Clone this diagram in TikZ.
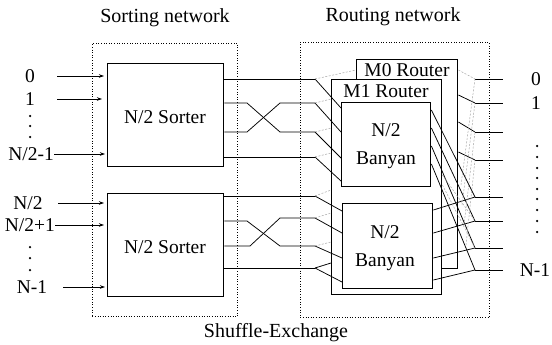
\documentclass[tikz,border=0pt]{standalone}
\usepackage{fontspec}
\setmainfont{Liberation Serif}
\usetikzlibrary{arrows.meta}
\begin{document}
\begin{tikzpicture}[x=1pt,y=-1pt,
  box/.style={draw, line width=1.4pt, fill=white, inner sep=0pt, anchor=north west},
  dotbox/.style={draw, dotted, line width=0.6pt},
  wire/.style={line width=0.75pt},
  gwire/.style={line width=0.5pt, gray!70, dash pattern=on 2pt off 1.5pt},
  arr/.style={wire, -{Stealth[length=5pt,width=3.5pt]}},
  lab/.style={font=\fontsize{19.5}{21}\selectfont, inner sep=0pt, text height=12.5pt, text depth=0pt},
  ttl/.style={font=\fontsize{20}{22}\selectfont, inner sep=0pt},
  dot/.style={circle, fill, inner sep=0pt, minimum size=2.5pt}
  ]
\useasboundingbox (0,0) rectangle (552,345);

% titles
\node[ttl] (tsort) at (165,18) {Sorting network};
\node[ttl] (trout) at (393,17) {Routing network};
\node[ttl] (tshuf) at (276,333) {Shuffle-Exchange};

% dotted enclosures
\node[dotbox, anchor=north west, minimum width=145pt, minimum height=273pt, inner sep=0pt] (sortnet) at (92,43) {};
\node[dotbox, anchor=north west, minimum width=189pt, minimum height=275pt, inner sep=0pt] (routnet) at (300,42) {};

% router boxes
\node[box, minimum width=101pt, minimum height=209pt] (m0) at (356,59) {};
\node[lab] (m0t) at (407,70) {M0 Router};
\node[box, minimum width=110pt, minimum height=215pt] (m1) at (331,79) {};
\node[lab] (m1t) at (386,91) {M1 Router};
\node[box, minimum width=89pt, minimum height=84pt] (ub) at (341,102) {};
\node[lab] (ubt1) at (386,130) {N/2};
\node[lab] (ubt2) at (386,158) {Banyan};
\node[box, minimum width=90pt, minimum height=85pt] (lb) at (342,203) {};
\node[lab] (lbt1) at (385,232) {N/2};
\node[lab] (lbt2) at (385,260) {Banyan};

% sorters
\node[box, minimum width=116pt, minimum height=103pt] (s1) at (107,63) {};
\node[lab] (s1t) at (165,117) {N/2 Sorter};
\node[box, minimum width=116pt, minimum height=103pt] (s2) at (107,193) {};
\node[lab] (s2t) at (165,247) {N/2 Sorter};

% input labels
\node[lab] (i0) at (30,76) {0};
\node[lab] (i1) at (30,99) {1};
\node[dot] (d1) at (30,116) {};
\node[dot] (d2) at (30,126) {};
\node[dot] (d3) at (30,137) {};
\node[lab, anchor=east] (i3) at (54,154) {N/2-1};
\node[lab] (i4) at (28,203) {N/2};
\node[lab, anchor=east] (i5) at (55,225) {N/2+1};
\node[dot] (d4) at (30,247) {};
\node[dot] (d5) at (30,258) {};
\node[dot] (d6) at (30,270) {};
\node[lab] (i7) at (32,287) {N-1};

% input arrows
\draw[arr] ([xshift=27pt]i0.center) -- ([xshift=-3pt]s1.west |- i0);
\draw[arr] ([xshift=27pt]i1.center) -- ([xshift=-5pt]s1.west |- i1);
\draw[arr] (i3.east) -- ([xshift=-2pt]s1.west |- i3);
\draw[arr] ([xshift=30pt]i4.center) -- ([xshift=-3pt]s2.west |- i4);
\draw[arr] (i5.east) -- ([xshift=-3pt]s2.west |- i5);
\draw[arr] ([xshift=31pt]i7.center) -- ([xshift=-2pt]s2.west |- i7);

% fork points
\coordinate (f1) at (315,79);  \coordinate (f2) at (315,103);
\coordinate (f3) at (315,132); \coordinate (f4) at (315,157);
\coordinate (f5) at (315,196); \coordinate (f6) at (315,218);
\coordinate (f7) at (315,246); \coordinate (f8) at (315,268);

% sorter outputs with shuffle crossings
\draw[wire] (s1.east |- f1) -- (f1);
\draw[wire] (s1.east |- f2) -- (247,103) -- (280,132) -- (f3);
\draw[wire] (s1.east |- f3) -- (247,132) -- (280,103) -- (f2);
\draw[wire] (s1.east |- f4) -- (f4);
\draw[wire] (s2.east |- f5) -- (f5);
\draw[wire] (s2.east |- 0,221) -- (247,221) -- (280,246) -- (f7);
\draw[wire] (s2.east |- f7) -- (250,246) -- (280,218) -- (f6);
\draw[wire] (s2.east |- f8) -- (f8);

% forks into routers
\draw[wire] (f1) -- (ub.west |- 0,108);
\draw[wire] (f2) -- (ub.west |- 0,132);
\draw[wire] (f3) -- (ub.west |- 0,158);
\draw[wire] (f4) -- (ub.west |- 0,181);
\draw[wire] (f5) -- (lb.west |- 0,211);
\draw[wire] (f6) -- (lb.west |- 0,233);
\draw[wire] (f7) -- (lb.west |- 0,258);
\draw[wire] (f8) -- (lb.west |- 0,282);
\draw[gwire] (f1) -- (m0.west |- 0,70);
\draw[gwire] (f2) -- (m1.west |- 0,99);
\draw[gwire] (f3) -- (m1.west |- 0,128);
\draw[gwire] (f4) -- (m1.west |- 0,153);
\draw[gwire] (f5) -- (m1.west |- 0,190);
\draw[gwire] (f6) -- (m1.west |- 0,213);
\draw[gwire] (f7) -- (m1.west |- 0,242);
\draw[wire] (f8) -- (m1.west |- 0,263);

% output side
\coordinate (o1) at (475,79);  \coordinate (o2) at (475,103);
\coordinate (o3) at (475,132); \coordinate (o4) at (475,160);
\coordinate (o5) at (475,197); \coordinate (o6) at (475,221);
\coordinate (o7) at (475,248); \coordinate (o8) at (475,270);

\node[lab] (r0) at (536,79) {0};
\node[lab] (r1) at (536,103) {1};
\foreach \k/\yy in {a/146,b/157,c/168,d/178,e/189,f/199,g/210,h/221,i/232}
  \node[dot] (rd\k) at (537,\yy) {};
\node[lab] (r7) at (535,270) {N-1};

\foreach \o in {o1,o2,o3,o4,o5,o6,o7,o8}
  \draw[wire] (\o) -- ++(28,0);

\draw[gwire] (m0.east |- 0,70) -- (o1);
\draw[wire] (m0.east |- 0,95) -- (o2);
\draw[wire] (m0.east |- 0,122) -- (o3);
\draw[wire] (m0.east |- 0,152) -- (o4);

\draw[wire] (ub.east |- 0,110) -- (o5);
\draw[wire] (ub.east |- 0,128) -- (o6);
\draw[wire] (ub.east |- 0,146) -- (o7);
\draw[wire] (ub.east |- 0,164) -- (o8);

\draw[wire] (lb.east |- 0,210) -- (o5);
\draw[wire] (lb.east |- 0,233) -- (o6);
\draw[wire] (lb.east |- 0,258) -- (o7);
\draw[wire] (lb.east |- 0,280) -- (o8);

\draw[gwire] (461,185) -- (o1);
\draw[gwire] (462,205) -- (o2);
\draw[gwire] (464,225) -- (o3);
\draw[gwire] (466,245) -- (o4);
\draw[gwire] (m1.east |- 0,175) -- (o6);
\draw[gwire] (m1.east |- 0,185) -- (o7);
\end{tikzpicture}
\end{document}
